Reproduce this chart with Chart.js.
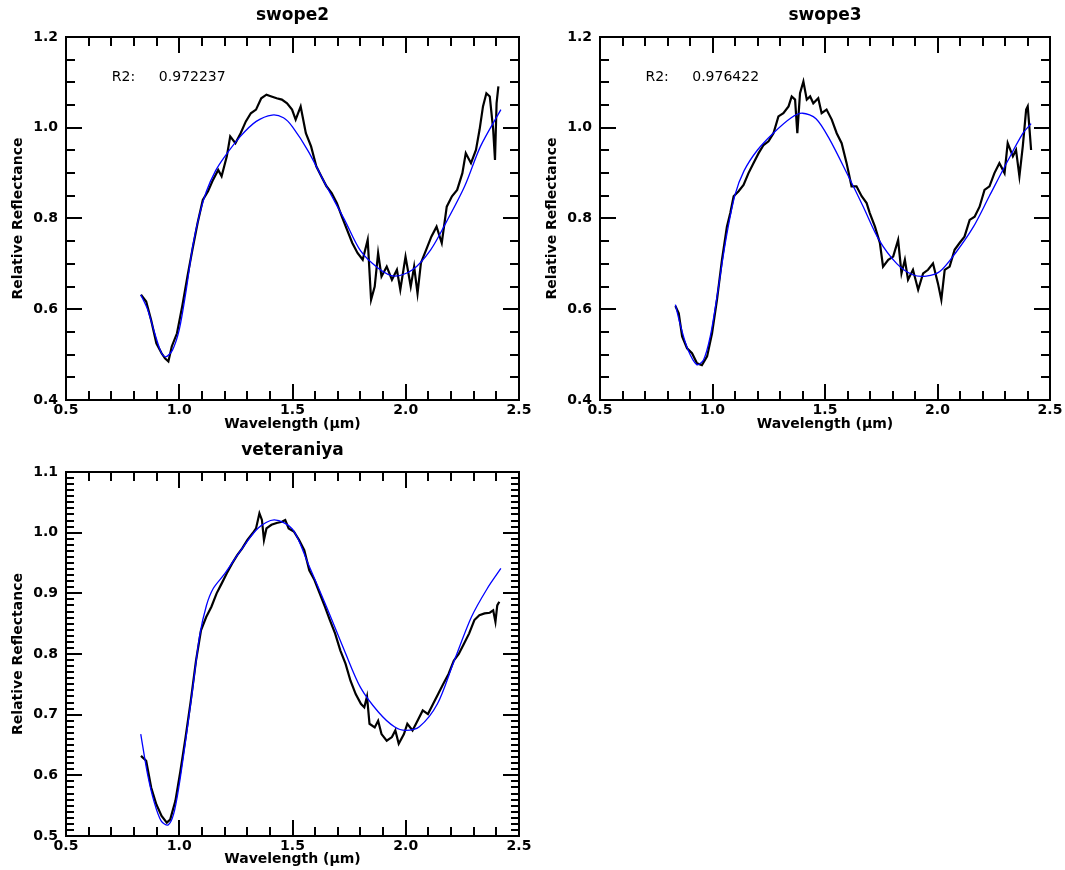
<!DOCTYPE html>
<html>
<head>
<meta charset="utf-8">
<script src="https://cdn.jsdelivr.net/npm/chart.js@4.4.1/dist/chart.umd.min.js"></script>
<style>
  html, body { margin: 0; padding: 0; background: #fff; overflow: hidden; }
  canvas { position: absolute; }
</style>
</head>
<body>
<canvas id="swope2" width="535" height="435" style="left:0px;top:0px"></canvas>
<canvas id="swope3" width="531" height="435" style="left:534px;top:0px"></canvas>
<canvas id="veteraniya" width="535" height="435" style="left:0px;top:435px"></canvas>
<script>
// tick labels
var xTicks = [0.5, 1.0, 1.5, 2.0, 2.5];
var yTicksTop = [0.4, 0.6, 0.8, 1.0, 1.2];
var yTicksBottom = [0.5, 0.6, 0.7, 0.8, 0.9, 1.0, 1.1];

// swope2 spectrum + fit
var swope2Wave = [0.831, 0.854, 0.876, 0.899, 0.922, 0.937, 0.952, 0.967, 0.990, 1.013, 1.036, 1.058, 1.081, 1.104, 1.127, 1.149, 1.172, 1.187, 1.210, 1.225, 1.248, 1.271, 1.294, 1.316, 1.339, 1.362, 1.385, 1.407, 1.430, 1.453, 1.476, 1.498, 1.514, 1.536, 1.559, 1.582, 1.605, 1.627, 1.650, 1.673, 1.696, 1.718, 1.741, 1.764, 1.787, 1.810, 1.832, 1.847, 1.863, 1.878, 1.893, 1.916, 1.939, 1.961, 1.976, 1.999, 2.022, 2.037, 2.052, 2.067, 2.090, 2.113, 2.136, 2.159, 2.181, 2.204, 2.227, 2.250, 2.265, 2.288, 2.310, 2.326, 2.341, 2.356, 2.371, 2.386, 2.394, 2.401, 2.409];
var swope2Refl = [0.632, 0.617, 0.576, 0.525, 0.503, 0.492, 0.485, 0.518, 0.547, 0.606, 0.672, 0.731, 0.790, 0.841, 0.860, 0.885, 0.907, 0.893, 0.937, 0.981, 0.966, 0.988, 1.014, 1.032, 1.040, 1.065, 1.073, 1.069, 1.065, 1.062, 1.054, 1.040, 1.018, 1.047, 0.988, 0.959, 0.915, 0.893, 0.871, 0.856, 0.834, 0.804, 0.775, 0.746, 0.724, 0.709, 0.753, 0.621, 0.650, 0.724, 0.672, 0.694, 0.665, 0.687, 0.643, 0.716, 0.650, 0.694, 0.635, 0.702, 0.731, 0.760, 0.782, 0.746, 0.826, 0.849, 0.863, 0.900, 0.944, 0.922, 0.951, 0.996, 1.047, 1.076, 1.069, 0.996, 0.929, 1.054, 1.091];
var swope2FitWave = [0.83, 0.86, 0.89, 0.92, 0.94, 0.97, 1.00, 1.03, 1.06, 1.09, 1.12, 1.16, 1.20, 1.27, 1.34, 1.41, 1.46, 1.50, 1.57, 1.65, 1.73, 1.80, 1.88, 1.95, 2.03, 2.11, 2.18, 2.26, 2.33, 2.42];
var swope2FitRefl = [0.632, 0.600, 0.550, 0.505, 0.495, 0.510, 0.555, 0.640, 0.740, 0.810, 0.860, 0.905, 0.936, 0.981, 1.014, 1.028, 1.022, 1.002, 0.948, 0.871, 0.797, 0.729, 0.690, 0.673, 0.687, 0.731, 0.793, 0.871, 0.959, 1.040];
var swope2R2 = '0.972237';

// swope3 spectrum + fit
var swope3Wave = [0.835, 0.850, 0.865, 0.887, 0.909, 0.931, 0.953, 0.976, 0.998, 1.020, 1.042, 1.064, 1.079, 1.094, 1.116, 1.138, 1.160, 1.182, 1.205, 1.227, 1.249, 1.271, 1.293, 1.315, 1.338, 1.352, 1.367, 1.377, 1.389, 1.404, 1.419, 1.434, 1.448, 1.470, 1.485, 1.507, 1.530, 1.552, 1.574, 1.596, 1.618, 1.640, 1.663, 1.685, 1.699, 1.722, 1.744, 1.758, 1.781, 1.803, 1.825, 1.840, 1.855, 1.869, 1.891, 1.914, 1.936, 1.958, 1.980, 2.002, 2.017, 2.032, 2.054, 2.076, 2.098, 2.120, 2.143, 2.165, 2.187, 2.209, 2.231, 2.253, 2.275, 2.298, 2.312, 2.335, 2.349, 2.364, 2.379, 2.394, 2.401, 2.408, 2.416];
var swope3Refl = [0.607, 0.591, 0.540, 0.514, 0.503, 0.481, 0.477, 0.496, 0.547, 0.621, 0.709, 0.782, 0.812, 0.849, 0.860, 0.874, 0.900, 0.922, 0.944, 0.962, 0.970, 0.988, 1.025, 1.032, 1.047, 1.069, 1.062, 0.988, 1.076, 1.102, 1.062, 1.069, 1.054, 1.065, 1.032, 1.040, 1.018, 0.988, 0.966, 0.922, 0.871, 0.871, 0.849, 0.834, 0.812, 0.782, 0.746, 0.694, 0.709, 0.716, 0.753, 0.679, 0.709, 0.665, 0.687, 0.643, 0.679, 0.687, 0.701, 0.657, 0.621, 0.687, 0.694, 0.731, 0.746, 0.760, 0.797, 0.804, 0.826, 0.863, 0.871, 0.900, 0.922, 0.900, 0.966, 0.937, 0.951, 0.893, 0.959, 1.040, 1.047, 1.003, 0.951];
var swope3FitWave = [0.835, 0.86, 0.89, 0.93, 0.96, 0.99, 1.02, 1.06, 1.10, 1.14, 1.20, 1.27, 1.35, 1.40, 1.46, 1.52, 1.60, 1.67, 1.74, 1.82, 1.89, 1.95, 2.01, 2.08, 2.16, 2.23, 2.31, 2.38, 2.416];
var swope3FitRefl = [0.610, 0.560, 0.512, 0.478, 0.488, 0.540, 0.628, 0.755, 0.852, 0.905, 0.951, 0.988, 1.022, 1.032, 1.020, 0.975, 0.897, 0.826, 0.753, 0.700, 0.676, 0.673, 0.683, 0.724, 0.782, 0.849, 0.925, 0.988, 1.009];
var swope3R2 = '0.976422';

// veteraniya spectrum + fit
var veteraniyaWave = [0.831, 0.854, 0.876, 0.899, 0.922, 0.945, 0.960, 0.983, 1.005, 1.028, 1.051, 1.074, 1.096, 1.119, 1.142, 1.165, 1.187, 1.210, 1.233, 1.256, 1.278, 1.301, 1.324, 1.339, 1.354, 1.365, 1.374, 1.385, 1.407, 1.430, 1.453, 1.468, 1.483, 1.506, 1.529, 1.552, 1.574, 1.597, 1.620, 1.643, 1.665, 1.688, 1.711, 1.734, 1.756, 1.779, 1.802, 1.817, 1.829, 1.840, 1.863, 1.878, 1.893, 1.916, 1.939, 1.954, 1.969, 1.992, 2.007, 2.030, 2.052, 2.075, 2.098, 2.121, 2.143, 2.166, 2.189, 2.212, 2.234, 2.257, 2.280, 2.303, 2.325, 2.348, 2.371, 2.386, 2.396, 2.404, 2.413];
var veteraniyaRefl = [0.632, 0.624, 0.580, 0.552, 0.533, 0.522, 0.527, 0.558, 0.607, 0.663, 0.723, 0.789, 0.839, 0.861, 0.878, 0.900, 0.916, 0.933, 0.949, 0.963, 0.974, 0.988, 0.999, 1.007, 1.032, 1.021, 0.988, 1.007, 1.013, 1.016, 1.018, 1.021, 1.007, 1.002, 0.988, 0.971, 0.938, 0.922, 0.900, 0.878, 0.856, 0.834, 0.806, 0.784, 0.756, 0.734, 0.718, 0.712, 0.730, 0.685, 0.679, 0.690, 0.668, 0.657, 0.663, 0.674, 0.652, 0.668, 0.685, 0.674, 0.690, 0.707, 0.701, 0.718, 0.734, 0.751, 0.767, 0.789, 0.800, 0.817, 0.834, 0.856, 0.864, 0.867, 0.868, 0.872, 0.853, 0.880, 0.886];
var veteraniyaFitWave = [0.83, 0.86, 0.89, 0.92, 0.95, 0.975, 1.00, 1.03, 1.06, 1.09, 1.12, 1.15, 1.20, 1.27, 1.35, 1.42, 1.50, 1.57, 1.65, 1.73, 1.80, 1.88, 1.95, 2.00, 2.06, 2.14, 2.21, 2.29, 2.36, 2.42];
var veteraniyaFitRefl = [0.668, 0.602, 0.555, 0.525, 0.518, 0.536, 0.585, 0.662, 0.745, 0.830, 0.880, 0.908, 0.932, 0.970, 1.008, 1.021, 1.006, 0.948, 0.878, 0.805, 0.745, 0.704, 0.680, 0.674, 0.680, 0.718, 0.785, 0.861, 0.908, 0.941];

var FONT = '"DejaVu Sans", sans-serif';
Chart.defaults.font.family = FONT;
Chart.defaults.color = '#000';

function pts(xs, ys) {
  return xs.map(function (v, i) { return { x: v, y: ys[i] }; });
}

// frame with inward ticks on all four sides, panel title, R2 text
var frame = {
  id: 'frame',
  afterDatasetsDraw: function (chart, args, o) {
    var ctx = chart.ctx, a = chart.chartArea;
    var sx = chart.scales.x, sy = chart.scales.y;
    ctx.save();
    ctx.strokeStyle = '#000';
    ctx.lineWidth = 2;
    ctx.strokeRect(a.left, a.top, a.right - a.left, a.bottom - a.top);
    ctx.beginPath();
    var nx = Math.round((o.xMax - o.xMin) / o.xMinor);
    for (var i = 0; i <= nx; i++) {
      var px = Math.round(sx.getPixelForValue(o.xMin + i * o.xMinor));
      var len = (i % o.xEvery === 0) ? 16 : 9;
      ctx.moveTo(px, a.bottom); ctx.lineTo(px, a.bottom - len);
      ctx.moveTo(px, a.top); ctx.lineTo(px, a.top + len);
    }
    var ny = Math.round((o.yMax - o.yMin) / o.yMinor);
    for (var j = 0; j <= ny; j++) {
      var py = Math.round(sy.getPixelForValue(o.yMin + j * o.yMinor));
      var l2 = (j % o.yEvery === 0) ? 16 : o.yMinorLen;
      ctx.moveTo(a.left, py); ctx.lineTo(a.left + l2, py);
      ctx.moveTo(a.right, py); ctx.lineTo(a.right - l2, py);
    }
    ctx.stroke();

    ctx.fillStyle = '#000';
    ctx.textBaseline = 'middle';
    ctx.textAlign = 'center';
    ctx.font = 'bold 17px ' + FONT;
    ctx.fillText(o.title, (a.left + a.right) / 2, a.top - 21);
    if (o.r2) {
      var w = a.right - a.left, h = a.bottom - a.top;
      ctx.textAlign = 'left';
      ctx.font = '14px ' + FONT;
      ctx.fillText('R2:', a.left + w * 0.101, a.top + h * 0.112);
      ctx.fillText(o.r2, a.left + w * 0.205, a.top + h * 0.112);
    }
    ctx.restore();
  }
};

function makePanel(id, name, wave, refl, fitWave, fitRefl, r2, yTicks, yMinor, yEvery, yMinorLen, rightPad, xHeight) {
  var yMin = yTicks[0], yMax = yTicks[yTicks.length - 1];
  new Chart(document.getElementById(id), {
    type: 'line',
    data: {
      datasets: [{
        label: 'fit',
        data: pts(fitWave, fitRefl),
        borderColor: '#0000ff',
        borderWidth: 1.3,
        pointRadius: 0,
        tension: 0.3,
        order: 0
      }, {
        label: name,
        data: pts(wave, refl),
        borderColor: '#000000',
        borderWidth: 2.2,
        pointRadius: 0,
        tension: 0,
        order: 1
      }]
    },
    options: {
      responsive: false,
      animation: false,
      layout: { padding: { top: 37, right: rightPad, left: 0, bottom: 0 } },
      plugins: {
        legend: { display: false },
        tooltip: { enabled: false },
        frame: { title: name, r2: r2, xMin: 0.5, xMax: 2.5, xMinor: 0.1, xEvery: 5,
                 yMin: yMin, yMax: yMax, yMinor: yMinor, yEvery: yEvery, yMinorLen: yMinorLen }
      },
      scales: {
        x: {
          type: 'linear', min: 0.5, max: 2.5,
          afterBuildTicks: function (s) { s.ticks = xTicks.map(function (v) { return { value: v }; }); },
          afterFit: function (s) { s.height = xHeight; },
          grid: { display: false, drawTicks: false },
          border: { display: false },
          ticks: { padding: 2, font: { size: 14, weight: 'bold' }, maxRotation: 0,
                   autoSkip: false, callback: function (v) { return Number(v).toFixed(1); } },
          title: { display: true, text: 'Wavelength (\u03bcm)', font: { size: 14, weight: 'bold' },
                   padding: { top: 0, bottom: 2 } }
        },
        y: {
          type: 'linear', min: yMin, max: yMax,
          afterBuildTicks: function (s) { s.ticks = yTicks.map(function (v) { return { value: v }; }); },
          afterFit: function (s) { s.width = 66; },
          grid: { display: false, drawTicks: false },
          border: { display: false },
          ticks: { padding: 8, font: { size: 14, weight: 'bold' }, autoSkip: false,
                   callback: function (v) { return Number(v).toFixed(1); } },
          title: { display: true, text: 'Relative Reflectance', font: { size: 14, weight: 'bold' },
                   padding: { top: 10, bottom: 0 } }
        }
      }
    },
    plugins: [frame]
  });
}

makePanel('swope2', 'swope2', swope2Wave, swope2Refl, swope2FitWave, swope2FitRefl, swope2R2,
          yTicksTop, 0.05, 4, 9, 16, 35);
makePanel('swope3', 'swope3', swope3Wave, swope3Refl, swope3FitWave, swope3FitRefl, swope3R2,
          yTicksTop, 0.05, 4, 9, 15, 35);
makePanel('veteraniya', 'veteraniya', veteraniyaWave, veteraniyaRefl, veteraniyaFitWave, veteraniyaFitRefl, null,
          yTicksBottom, 0.01, 10, 8, 16, 34);
</script>
</body>
</html>
